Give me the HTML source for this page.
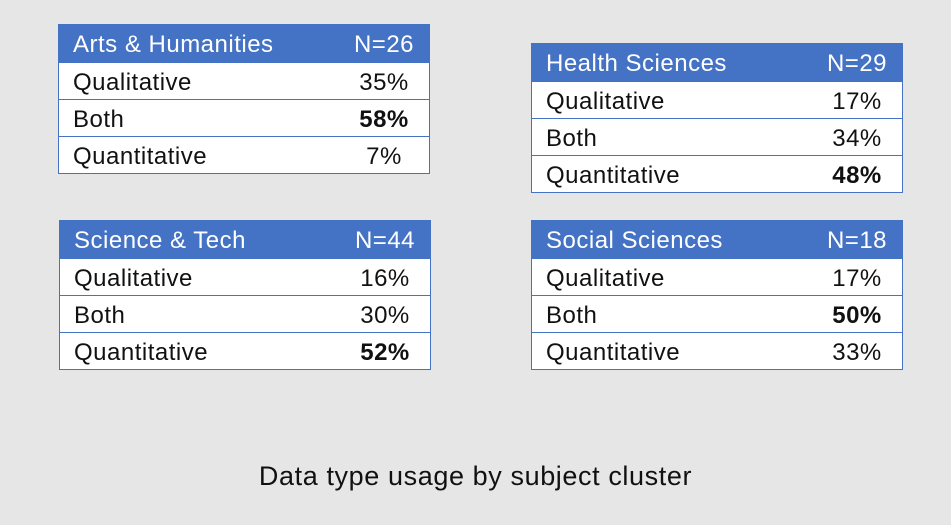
<!DOCTYPE html>
<html><head><meta charset="utf-8"><style>
body{margin:0;width:951px;height:525px;background:#e7e6e6;position:relative;overflow:hidden;font-family:"Liberation Sans",sans-serif;}
.tbl{position:absolute;width:372px;border:1px solid #4472c4;background:#fff;box-sizing:border-box}
.row{position:relative;height:37px;border-top:1px solid #4472c4;box-sizing:border-box;font-size:24px;letter-spacing:0.5px;color:#111}
.row:first-child{border-top:none;background:#4472c4;color:#fff}
.lab{position:absolute;left:14px;top:6px}
.val{position:absolute;left:280px;width:90px;text-align:center;top:6px}
.title{position:absolute;left:0;width:951px;top:461px;text-align:center;font-size:27px;letter-spacing:0.6px;color:#111}
</style></head><body>
<div class="title">Data type usage by subject cluster</div>
<script>
const clusters=["Arts & Humanities","Health Sciences","Science & Tech","Social Sciences"];
const counts=[26,29,44,18];
const types=["Qualitative","Both","Quantitative"];
const qualVals=[35,17,16,17];
const bothVals=[58,34,30,50];
const quantVals=[7,48,52,33];
const pos=[[58,24],[531,43],[59,220],[531,220]];
clusters.forEach((c,i)=>{
 const t=document.createElement('div');t.className='tbl';
 
 
 t.style.left=pos[i][0]+'px';t.style.top=pos[i][1]+'px';
 const vals=[qualVals[i],bothVals[i],quantVals[i]];
 const mx=Math.max(...vals);
 const rows=[[c,'N='+counts[i],false]].concat(types.map((ty,j)=>[ty,vals[j]+'%',vals[j]===mx]));
 rows.forEach((r,j)=>{
  const d=document.createElement('div');d.className='row';
  
  
  const a=document.createElement('span');a.className='lab';a.textContent=r[0];
  
  
  const b=document.createElement('span');b.className='val';b.textContent=r[1];
  
  
  if(r[2])b.style.fontWeight='bold';
  d.appendChild(a);d.appendChild(b);t.appendChild(d);
 });
 document.body.appendChild(t);
});
</script>
</body></html>
